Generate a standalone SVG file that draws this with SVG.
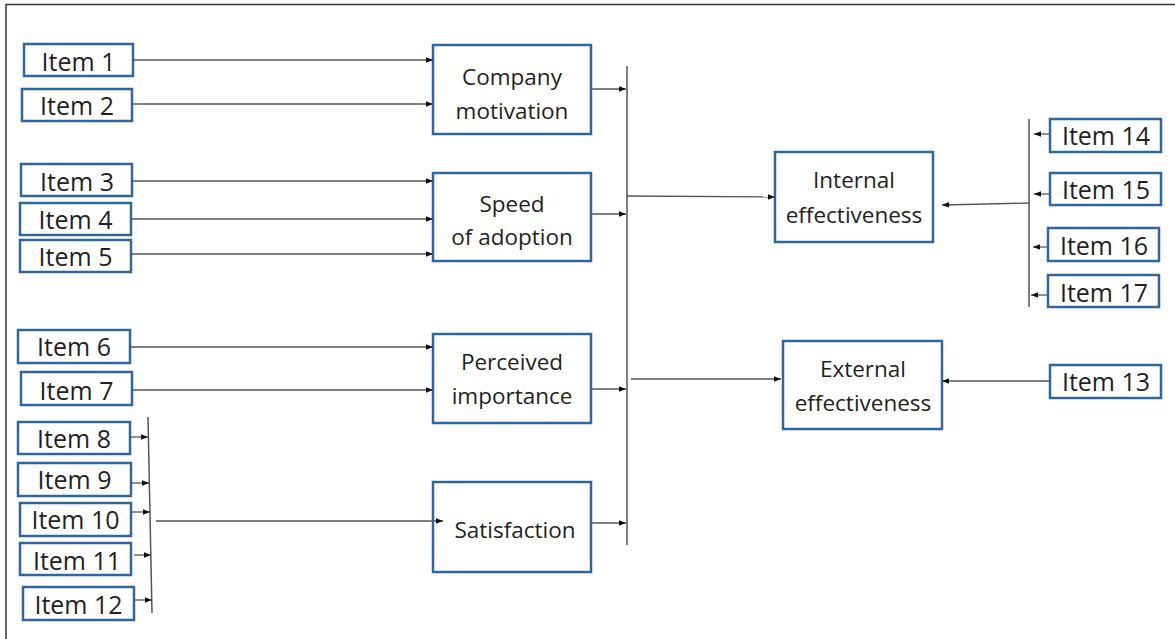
<svg xmlns="http://www.w3.org/2000/svg" width="1175" height="639" viewBox="0 0 1175 639">
<defs>
<marker id="ah" viewBox="0 0 10 10" refX="10" refY="5" markerWidth="7" markerHeight="7" markerUnits="userSpaceOnUse" orient="auto">
<path d="M0,1 L10,5 L0,9 Z" fill="#111"/>
</marker>
</defs>
<style>
.box{fill:#fff;stroke:#2e66a0;stroke-width:2.5}
.it{font-family:"Open Sans","Liberation Sans",sans-serif;font-size:25px;fill:#231f20;text-anchor:middle}
.nd{font-family:"Open Sans","Liberation Sans",sans-serif;font-size:22.5px;fill:#231f20;text-anchor:middle}
.ln{stroke:#555;stroke-width:1.3;fill:none}
.ar{stroke:#555;stroke-width:1.3;fill:none;marker-end:url(#ah)}
.bar{stroke:#555;stroke-width:1.5;fill:none}
</style>
<rect width="1175" height="639" fill="#fff"/>
<path d="M6,639 V4.5 H1175" fill="none" stroke="#333" stroke-width="1.5"/>

<g id="item1"><rect class="box" x="24" y="44" width="109" height="32"/><text class="it" x="78.5" y="71">Item 1</text></g>
<g id="item2"><rect class="box" x="22" y="89" width="110" height="32"/><text class="it" x="77" y="115">Item 2</text></g>
<g id="item3"><rect class="box" x="21" y="164" width="111" height="32"/><text class="it" x="77" y="191">Item 3</text></g>
<g id="item4"><rect class="box" x="20" y="203" width="111" height="32"/><text class="it" x="75.5" y="229">Item 4</text></g>
<g id="item5"><rect class="box" x="20" y="240" width="111" height="32"/><text class="it" x="75.5" y="266">Item 5</text></g>
<g id="item6"><rect class="box" x="18" y="330" width="112" height="33"/><text class="it" x="74" y="356">Item 6</text></g>
<g id="item7"><rect class="box" x="21" y="372" width="111" height="33"/><text class="it" x="76.5" y="400">Item 7</text></g>
<g id="item8"><rect class="box" x="18" y="422" width="112" height="32"/><text class="it" x="74" y="448">Item 8</text></g>
<g id="item9"><rect class="box" x="18" y="463" width="113" height="33"/><text class="it" x="74.5" y="489">Item 9</text></g>
<g id="item10"><rect class="box" x="20" y="503" width="111" height="33"/><text class="it" x="75.5" y="529">Item 10</text></g>
<g id="item11"><rect class="box" x="20" y="543" width="111" height="32"/><text class="it" x="77" y="570">Item 11</text></g>
<g id="item12"><rect class="box" x="23" y="587" width="111" height="33"/><text class="it" x="78.5" y="614">Item 12</text></g>

<g id="company"><rect class="box" x="433" y="45" width="158" height="89"/><text class="nd" x="512" y="85">Company</text><text class="nd" x="512" y="119">motivation</text></g>
<g id="speed"><rect class="box" x="433" y="173" width="158" height="88"/><text class="nd" x="512" y="212">Speed</text><text class="nd" x="512" y="245">of adoption</text></g>
<g id="perceived"><rect class="box" x="433" y="334" width="158" height="89"/><text class="nd" x="512" y="370">Perceived</text><text class="nd" x="512" y="404">importance</text></g>
<g id="satisfaction"><rect class="box" x="433" y="482" width="158" height="90"/><text class="nd" x="515" y="538">Satisfaction</text></g>

<g id="internal"><rect class="box" x="775" y="152" width="158" height="90"/><text class="nd" x="854" y="188">Internal</text><text class="nd" x="854" y="223">effectiveness</text></g>
<g id="external"><rect class="box" x="783" y="341" width="159" height="88"/><text class="nd" x="863" y="377">External</text><text class="nd" x="863" y="411">effectiveness</text></g>

<g id="item13"><rect class="box" x="1050" y="365" width="111" height="33"/><text class="it" x="1106" y="391">Item 13</text></g>
<g id="item14"><rect class="box" x="1050" y="119" width="111" height="33"/><text class="it" x="1106" y="145">Item 14</text></g>
<g id="item15"><rect class="box" x="1050" y="173" width="111" height="32"/><text class="it" x="1106" y="199">Item 15</text></g>
<g id="item16"><rect class="box" x="1048" y="228" width="111" height="33"/><text class="it" x="1104" y="255">Item 16</text></g>
<g id="item17"><rect class="box" x="1048" y="275" width="111" height="32"/><text class="it" x="1104" y="302">Item 17</text></g>

<g id="connectors">
<line class="ar" x1="133" y1="60" x2="433" y2="60"/>
<line class="ar" x1="132" y1="104" x2="433" y2="104"/>
<line class="ar" x1="132" y1="181" x2="433" y2="181"/>
<line class="ar" x1="131" y1="219" x2="433" y2="219"/>
<line class="ar" x1="131" y1="254" x2="433" y2="254"/>
<line class="ar" x1="130" y1="347" x2="433" y2="347"/>
<line class="ar" x1="132" y1="390" x2="433" y2="390"/>

<line class="bar" x1="148" y1="417" x2="152" y2="613"/>
<line class="ar" x1="130" y1="437" x2="148" y2="437"/>
<line class="ar" x1="131" y1="483" x2="149" y2="483"/>
<line class="ar" x1="131" y1="512" x2="150" y2="512"/>
<line class="ar" x1="134" y1="555" x2="151" y2="555"/>
<line class="ar" x1="135" y1="600" x2="152" y2="600"/>
<line class="ar" x1="156" y1="521" x2="443" y2="521"/>

<line class="bar" x1="627" y1="66" x2="627" y2="545"/>
<line class="ar" x1="591" y1="89" x2="626" y2="89"/>
<line class="ar" x1="591" y1="214" x2="626" y2="214"/>
<line class="ar" x1="591" y1="389" x2="626" y2="389"/>
<line class="ar" x1="591" y1="523" x2="626" y2="523"/>
<line class="ar" x1="627" y1="196" x2="775" y2="197"/>
<line class="ar" x1="631" y1="379" x2="781" y2="379"/>

<line class="bar" x1="1029" y1="119" x2="1029" y2="307"/>
<line class="ar" x1="1029" y1="203" x2="942" y2="205"/>
<line class="ar" x1="1050" y1="134" x2="1034" y2="134"/>
<line class="ar" x1="1050" y1="194" x2="1034" y2="194"/>
<line class="ar" x1="1048" y1="247" x2="1033" y2="247"/>
<line class="ar" x1="1048" y1="295" x2="1031" y2="295"/>
<line class="ar" x1="1050" y1="381" x2="942" y2="381"/>
</g>
</svg>
